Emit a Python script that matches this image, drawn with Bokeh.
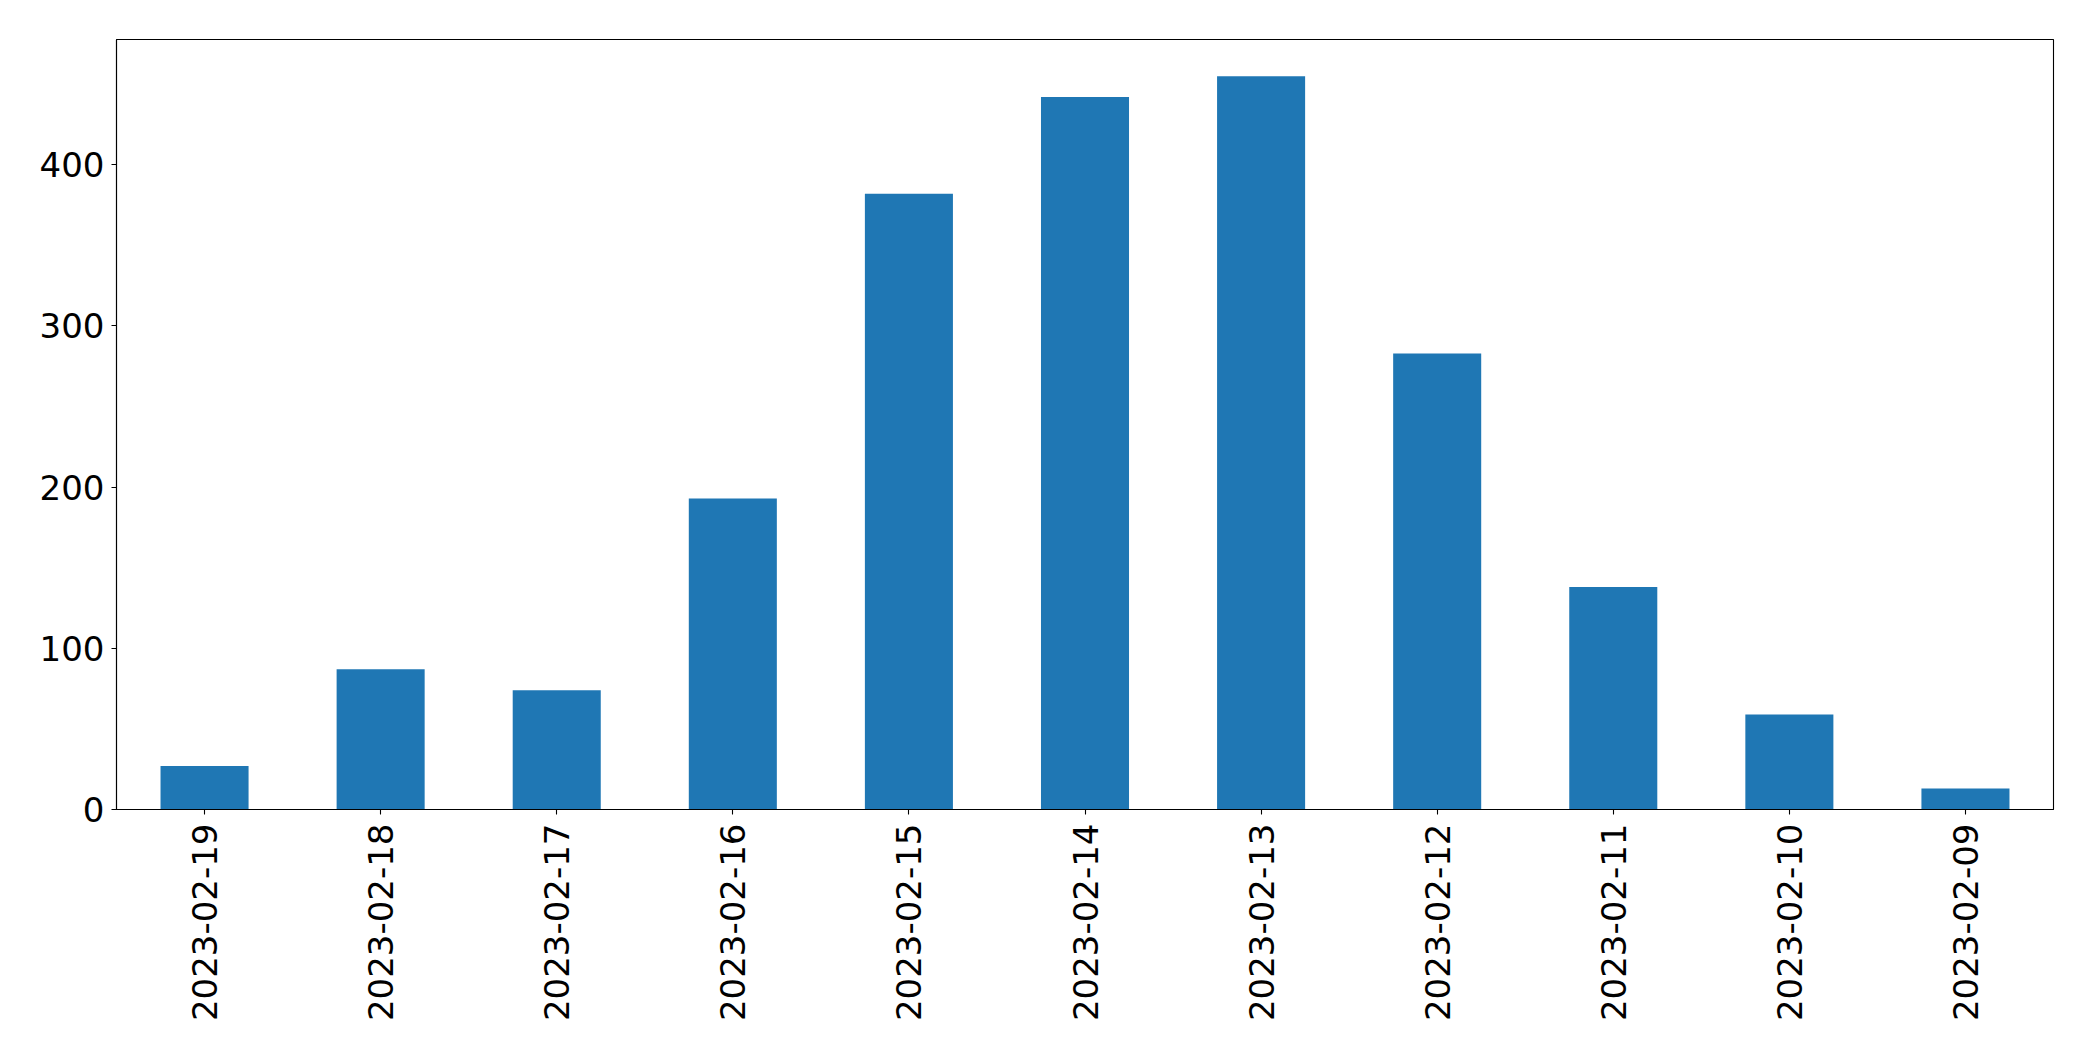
from bokeh.plotting import figure
from bokeh.models import FactorRange, Range1d, FixedTicker, ColumnDataSource
from bokeh.embed import file_html
from bokeh.resources import INLINE

dates = ["2023-02-19", "2023-02-18", "2023-02-17", "2023-02-16", "2023-02-15",
         "2023-02-14", "2023-02-13", "2023-02-12", "2023-02-11", "2023-02-10",
         "2023-02-09"]
counts = [27, 87, 74, 193, 382, 442, 455, 283, 138, 59, 13]
y_ticks = [0, 100, 200, 300, 400]

source = ColumnDataSource(data=dict(date=dates, count=counts))

p = figure(
    x_range=FactorRange(factors=dates, range_padding=0),
    y_range=Range1d(0, max(counts) * 1.05),
    width=2085, height=1053,
    output_backend="svg", toolbar_location=None, tools="",
    min_border_left=116, min_border_right=32,
    min_border_top=39, min_border_bottom=244,
    background_fill_color="white", border_fill_color="white",
)

p.vbar(x="date", top="count", width=0.5, source=source,
       fill_color="#1f77b4", line_color=None)

p.outline_line_color = "black"
p.outline_line_width = 1.1
p.outline_line_alpha = 1
p.xgrid.visible = False
p.ygrid.visible = False

FONT = "DejaVu Sans"
for ax in (p.xaxis[0], p.yaxis[0]):
    ax.axis_line_color = "black"
    ax.axis_line_width = 1.1
    ax.major_tick_line_color = "black"
    ax.major_tick_line_width = 1.1
    ax.major_tick_out = 5
    ax.major_tick_in = 0
    ax.minor_tick_line_color = None
    ax.major_label_text_font = FONT
    ax.major_label_text_font_size = "34px"
    ax.major_label_text_color = "black"

p.yaxis[0].ticker = FixedTicker(ticks=y_ticks)
p.yaxis[0].major_label_standoff = 7
p.xaxis[0].major_label_orientation = 1.5707963267948966
p.xaxis[0].major_label_standoff = 9

open("out.html", "w").write(file_html(p, INLINE))
